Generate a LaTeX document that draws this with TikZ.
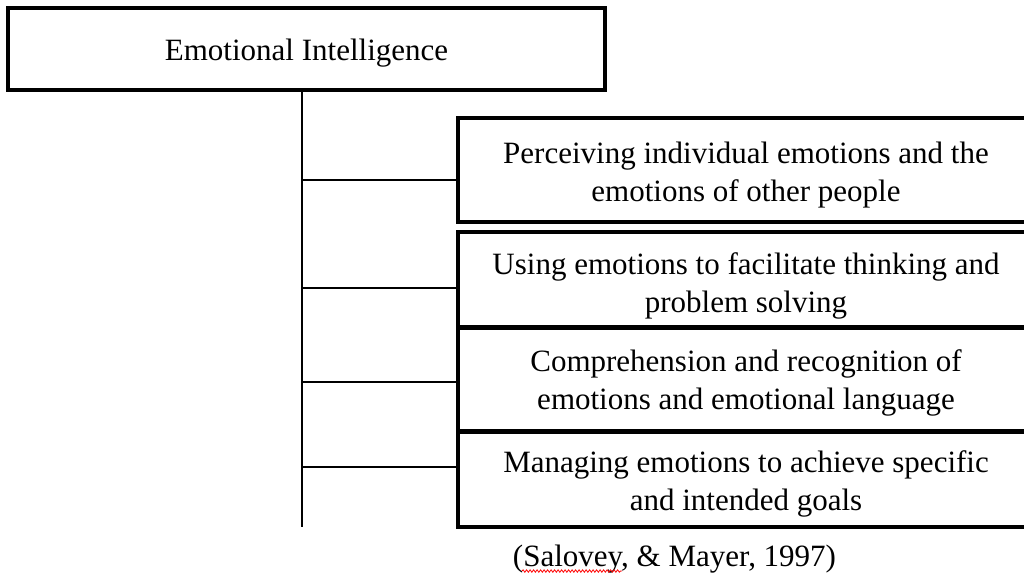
\documentclass[tikz,border=0pt]{standalone}
\usepackage{fontspec}
\setmainfont{Liberation Serif}
\usetikzlibrary{calc,decorations.pathmorphing}

\tikzset{
  frame/.style={draw, line width=3.6pt, inner sep=0pt},
  partbox/.style={frame, minimum width=576},
  eitext/.style={inner sep=0pt, align=center, font=\fontsize{31}{38}\selectfont},
  branch/.style={line width=1.4pt},
}

\begin{document}
\begin{tikzpicture}[x=1pt,y=1pt,yscale=-1,xscale=1]
\useasboundingbox (0,0) rectangle (1024,574);
\clip (0,0) rectangle (1024,574);

%Shape: Rectangle [id:top]
\node [frame, minimum width=597, minimum height=82] (ei) at (306.5,49) {};
% Text Node
\node [eitext] (ei-t) at ($(ei.center)+(0,4.5)$) {Emotional Intelligence};

%Shape: Rectangle [id:parts]
\node [partbox, minimum height=104] (perc) at (746,170) {};
\node [partbox, minimum height=95] (facil) at (746,279.5) {};
\node [partbox, minimum height=103] (under) at (746,379.5) {};
\node [partbox, minimum height=95] (manag) at (746,479.5) {};

% Text Node
\node [eitext] (perc-t) at ($(perc.center)+(0,5)$) {Perceiving individual emotions and the\\emotions of other people};
% Text Node
\node [eitext] (facil-t) at ($(facil.center)+(0,6.5)$) {Using emotions to facilitate thinking and\\problem solving};
% Text Node
\node [eitext] (under-t) at ($(under.center)+(0,3)$) {Comprehension and recognition of\\emotions and emotional language};
% Text Node
\node [eitext] (manag-t) at ($(manag.center)+(0,4.5)$) {Managing emotions to achieve specific\\and intended goals};

%Straight Lines [id:trunk]
\coordinate (trunkend) at (302,527);
\draw [branch] (ei.south -| trunkend) -- (trunkend);

%Straight Lines [id:branches]
\coordinate (b1) at (302,180);
\coordinate (b2) at (302,288);
\coordinate (b3) at (302,382);
\coordinate (b4) at (302,467);
\draw [branch] (b1) -- (b1 -| perc.west);
\draw [branch] (b2) -- (b2 -| facil.west);
\draw [branch] (b3) -- (b3 -| under.west);
\draw [branch] (b4) -- (b4 -| manag.west);

% Text Node
\node [eitext] (cite) at (674.5,559.5) {(Salovey, \& Mayer, 1997)};
%Curve Lines [id:spell]
\draw [red, line width=0.8pt, decorate, decoration={snake, amplitude=1.2pt, segment length=3.5pt}] (522,571) -- (622,571);

\end{tikzpicture}
\end{document}
